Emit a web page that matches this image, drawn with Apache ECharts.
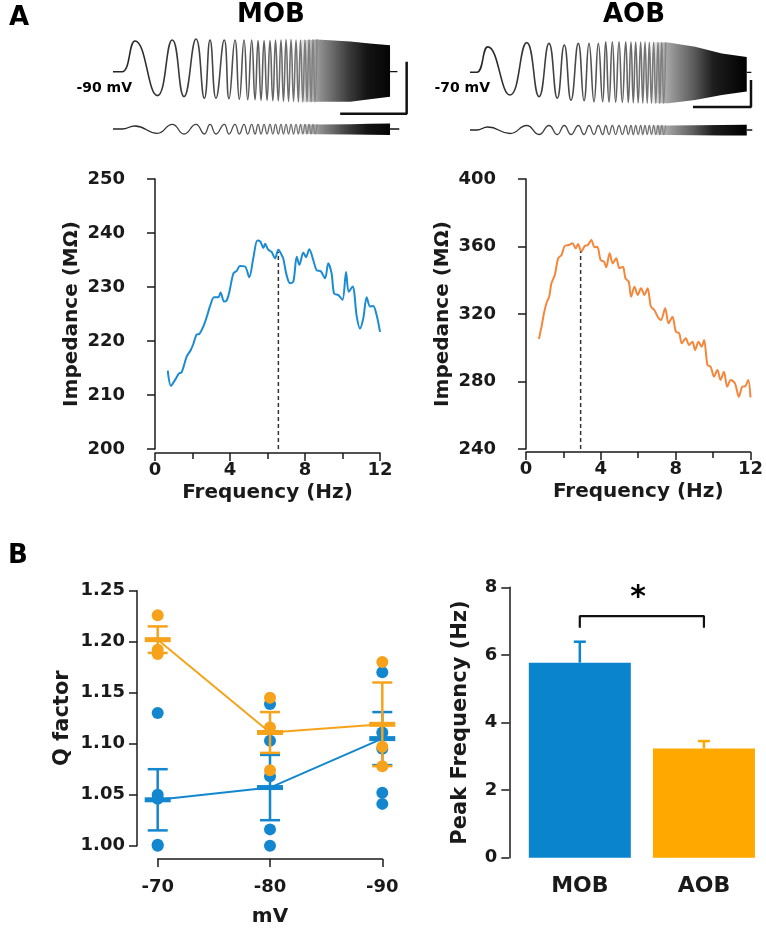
<!DOCTYPE html>
<html><head><meta charset="utf-8">
<script src="https://cdn.jsdelivr.net/npm/echarts@6/dist/echarts.min.js"></script>
<style>html,body{margin:0;padding:0;background:#fff}#c{width:766px;height:928px}</style>
</head><body><div id="c"></div>
<script>
// ---------- Panel A top: chirp responses (time s, mV / pA) ----------
const mobTraceT = [0, 0.97, 2.38, 4.80, 6.42, 7.69, 8.99, 9.89, 10.51, 11.15, 12.05, 12.56, 13.21, 13.68, 14.19, 14.59, 15.02, 15.38, 15.71, 16.03, 16.36, 16.68, 17.00, 17.31, 17.60, 17.90, 18.19, 18.46, 18.74, 19.01, 19.28, 19.55, 19.82, 20.07, 20.31, 20.56, 20.79, 21.01, 21.23, 21.45, 21.66, 21.88, 22.09];
const mobTraceV = [-90, -90, -84.1, -94.6, -83.9, -94.8, -83.7, -95.1, -83.9, -95.1, -83.9, -95.2, -83.9, -95.3, -83.9, -95.4, -83.9, -95.4, -84.0, -95.5, -84.0, -95.5, -84.0, -95.6, -83.9, -95.6, -83.9, -95.7, -83.8, -95.7, -83.8, -95.7, -83.9, -95.8, -83.9, -95.8, -83.9, -95.8, -83.8, -95.8, -83.8, -95.8, -83.8];
const mobStimI = [0, 0, 30, -43, 47, -50, 47, -50, 47, -50, 47, -50, 47, -50, 47, -50, 47, -50, 47, -50, 47, -50, 47, -50, 47, -50, 47, -50, 47, -50, 47, -50, 47, -50, 47, -50, 47, -50, 47, -50, 47, -50, 47];
const mobBandT = [20.0, 21.4, 22.1, 25.7, 27.8, 30.0];
const mobBandHiV = [-83.9, -83.9, -83.8, -84.2, -84.6, -84.9];
const mobBandLoV = [-95.8, -95.8, -95.8, -95.8, -95.3, -94.8];
const mobBandHiI = [47, 45, 45, 48, 52, 55];
const mobBandLoI = [-50, -50, -52, -55, -58, -60];
const mobTailT = [30.0, 30.8];
const mobBaseV = -90;
const mobScaleT = [24.6, 31.8, 31.8];
const mobScaleV = [-98.1, -98.1, -88.1];

const aobTraceT = [0, 0.73, 1.92, 4.34, 6.15, 7.48, 8.56, 9.46, 10.22, 10.95, 11.74, 12.36, 12.90, 13.44, 13.91, 14.38, 14.71, 15.07, 15.43, 15.79, 16.15, 16.51, 16.88, 17.16, 17.45, 17.70, 17.96, 18.23, 18.50, 18.73, 18.97, 19.21, 19.44, 19.67, 19.91, 20.14, 20.38, 20.57, 20.78, 21.00, 21.21];
const aobTraceV = [-70, -70, -60.6, -78.4, -59.0, -79.0, -59.3, -79.6, -59.9, -80.3, -59.3, -80.5, -59.3, -80.9, -59.3, -80.9, -58.7, -81.0, -58.7, -81.1, -58.7, -81.2, -58.7, -81.2, -58.8, -81.3, -58.8, -81.3, -58.8, -81.4, -58.8, -81.4, -58.9, -81.4, -58.9, -81.4, -58.9, -81.5, -59.0, -81.5, -59.0];
const aobStimI = [0, 0, 30, -35, 45, -45, 45, -45, 45, -45, 45, -45, 45, -45, 45, -45, 45, -45, 45, -45, 45, -45, 45, -45, 45, -45, 45, -45, 45, -45, 45, -45, 45, -45, 45, -45, 45, -45, 45, -45, 45];
const aobBandT = [19.5, 20.6, 21.5, 24.4, 27.3, 29.8, 30.0];
const aobBandHiV = [-58.9, -59.0, -59.0, -60.5, -63.0, -64.2, -64.3];
const aobBandLoV = [-81.4, -81.5, -81.5, -80.3, -78.4, -77.2, -77.1];
const aobBandHiI = [45, 45, 45, 47, 50, 52, 52];
const aobBandLoI = [-47, -50, -50, -52, -55, -55, -55];
const aobTailT = [30.0, 30.5];
const aobBaseV = -70;
const aobScaleT = [24.17, 30.46, 30.46];
const aobScaleV = [-82.85, -82.85, -72.85];

// ---------- Panel A bottom: impedance profiles ----------
const mobFreq = [0.68, 0.85, 1.07, 1.28, 1.42, 1.69, 1.9, 2.04, 2.22, 2.36, 2.58, 2.79, 2.93, 3.15, 3.38, 3.5, 3.68, 3.82, 3.96, 4.18, 4.36, 4.53, 4.8, 5.03, 5.24, 5.46, 5.62, 5.78, 5.87, 6.04, 6.22, 6.4, 6.58, 6.76, 6.84, 7.02, 7.2, 7.38, 7.56, 7.7, 7.91, 8.05, 8.23, 8.44, 8.62, 8.84, 9.07, 9.24, 9.42, 9.55, 9.78, 10.0, 10.19, 10.33, 10.54, 10.76, 10.93, 11.11, 11.29, 11.47, 11.64, 11.82, 12.0];
const mobImp = [214.5, 211.7, 212.8, 214.0, 214.2, 217.1, 218.3, 219.4, 221.2, 221.3, 222.7, 224.8, 226.4, 228.1, 228.1, 229.0, 227.3, 227.5, 229.0, 232.5, 233.0, 233.9, 233.8, 231.8, 235.3, 238.6, 238.4, 237.2, 238.0, 236.9, 236.5, 235.3, 236.9, 235.9, 235.3, 232.2, 230.7, 231.0, 235.6, 234.1, 236.4, 235.5, 237.0, 235.0, 233.1, 232.9, 231.6, 234.4, 232.5, 228.8, 228.5, 227.6, 232.8, 229.1, 230.1, 224.5, 222.3, 224.2, 228.1, 226.4, 226.5, 224.8, 221.7];
const mobPeakFreq = 6.58;
const mobPeakImp = 236.5;
const mobImpTicks = [200, 250, 10];

const aobFreq = [0.69, 0.83, 0.96, 1.1, 1.24, 1.36, 1.54, 1.72, 1.9, 2.07, 2.3, 2.48, 2.66, 2.78, 2.96, 3.14, 3.31, 3.49, 3.67, 3.81, 3.99, 4.17, 4.29, 4.47, 4.64, 4.82, 5.0, 5.18, 5.32, 5.49, 5.62, 5.8, 5.97, 6.15, 6.33, 6.5, 6.68, 6.86, 7.04, 7.21, 7.44, 7.62, 7.83, 8.01, 8.19, 8.33, 8.54, 8.72, 8.9, 9.04, 9.22, 9.39, 9.52, 9.7, 9.87, 10.05, 10.23, 10.4, 10.58, 10.76, 10.94, 11.17, 11.38, 11.56, 11.73, 11.88, 12.0];
const aobImp = [305.2, 312.5, 320.4, 326.7, 330.3, 338.2, 343.1, 353.0, 355.0, 360.3, 360.9, 361.9, 358.9, 361.5, 356.9, 360.3, 360.9, 363.9, 359.5, 359.9, 352.0, 351.0, 347.7, 356.0, 350.0, 353.0, 347.1, 348.0, 341.1, 339.2, 330.3, 336.2, 331.3, 335.2, 331.3, 335.2, 324.3, 322.4, 318.4, 316.4, 323.4, 314.5, 318.4, 309.5, 308.5, 302.6, 305.6, 301.6, 303.6, 298.7, 303.6, 300.6, 304.6, 289.8, 288.8, 282.9, 286.8, 280.9, 285.8, 276.9, 280.9, 278.9, 271.0, 276.9, 277.3, 280.9, 270.6];
const aobPeakFreq = 2.92;
const aobPeakImp = 357;
const aobImpTicks = [240, 400, 40];
const freqTicks = [0, 12, 4];

// ---------- Panel B: Q factor ----------
const qCategories = ['-70', '-80', '-90'];
const mobQDots = [[1.130, 1.050, 1.046, 1.001, 1.000], [1.139, 1.103, 1.068, 1.016, 1.000], [1.170, 1.111, 1.095, 1.052, 1.041]];
const aobQDots = [[1.226, 1.192, 1.188], [1.145, 1.116, 1.074], [1.180, 1.097, 1.078]];
const mobQMean = [1.045, 1.057, 1.105];
const mobQSem = [0.030, 0.032, 0.026];
const aobQMean = [1.202, 1.111, 1.119];
const aobQSem = [0.013, 0.020, 0.041];
const qTicks = [1.00, 1.25, 0.05];

// ---------- Panel B: peak frequency ----------
const peakCats = ['MOB', 'AOB'];
const peakMean = [5.77, 3.23];
const peakSem = [0.62, 0.22];
const peakTicks = [0, 8, 2];
const sigBracketLow = 6.8;
const sigBracketHigh = 7.15;

// ---------- styling ----------
const FONT = 'DejaVu Sans';
const INK = '#1a1a1a';
const BLUE_Z = '#1b8bd3', ORANGE_Z = '#f4873c';
const BLUE_Q = '#1287cf', ORANGE_Q = '#f6a31b';
const peakColors = ['#0a84cd', '#ffa800'];

const G = echarts.graphic.LinearGradient;
const zip = (a, b) => a.map((v, i) => [v, b[i]]);

function hidden(gi, min, max) { return { gridIndex: gi, type: 'value', min: min, max: max, show: false }; }
function styledAxis(extra) {
  return Object.assign({
    axisLine: { show: true, lineStyle: { color: INK, width: 1.5 } },
    axisTick: { show: true, length: 8, inside: false, lineStyle: { color: INK, width: 1.5 } },
    axisLabel: { color: INK, fontFamily: FONT, fontWeight: 'bold', fontSize: 18 },
    splitLine: { show: false },
    nameLocation: 'middle',
    nameTextStyle: { color: INK, fontFamily: FONT, fontWeight: 'bold', fontSize: 20 }
  }, extra);
}

function bandRender(tArr, hiArr, loArr, fill) {
  return function (params, api) {
    const pts = [];
    for (let i = 0; i < tArr.length; i++) pts.push(api.coord([tArr[i], hiArr[i]]));
    for (let i = tArr.length - 1; i >= 0; i--) pts.push(api.coord([tArr[i], loArr[i]]));
    return { type: 'polygon', shape: { points: pts }, style: { fill: fill } };
  };
}
const bandGradA = () => new G(0, 0, 1, 0, [
  { offset: 0, color: 'rgba(140,140,140,0)' }, { offset: 0.14, color: 'rgba(130,130,130,0.55)' },
  { offset: 0.25, color: '#8c8c8c' }, { offset: 0.55, color: '#3c3c3c' },
  { offset: 0.75, color: '#141414' }, { offset: 1, color: '#050505' }]);
const bandGradB = () => new G(0, 0, 1, 0, [
  { offset: 0, color: 'rgba(140,140,140,0)' }, { offset: 0.12, color: 'rgba(130,130,130,0.55)' },
  { offset: 0.25, color: '#909090' }, { offset: 0.45, color: '#5c5c5c' },
  { offset: 0.65, color: '#1e1e1e' }, { offset: 1, color: '#000' }]);
const waveGrad = () => new G(0, 0, 1, 0, [
  { offset: 0, color: '#222' }, { offset: 0.55, color: '#4a4a4a' }, { offset: 1, color: '#808080' }]);

function traceSeries(xi, tArr, vArr, bandT, bandHi, bandLo, bandFill, tailT, base, width) {
  return [
    { type: 'line', xAxisIndex: xi, yAxisIndex: xi, data: zip(tArr, vArr), smooth: 0.5, showSymbol: false, clip: false,
      lineStyle: { width: width, color: waveGrad() }, z: 2 },
    { type: 'custom', xAxisIndex: xi, yAxisIndex: xi, data: [[bandT[0], bandHi[0]]], renderItem: bandRender(bandT, bandHi, bandLo, bandFill), z: 3 },
    { type: 'line', xAxisIndex: xi, yAxisIndex: xi, data: tailT.map(t => [t, base]), showSymbol: false, clip: false,
      lineStyle: { width: 1.3, color: '#111' }, z: 3 }
  ];
}

function qErr(color) {
  return function (params, api) {
    const i = api.value(0), m = api.value(1), s = api.value(2);
    const c = api.coord([i, m]), hi = api.coord([i, m + s]), lo = api.coord([i, m - s]);
    const cw = 10, mw = 13;
    const st = { stroke: color, lineWidth: 2.5 };
    return { type: 'group', children: [
      { type: 'line', shape: { x1: c[0], y1: hi[1], x2: c[0], y2: lo[1] }, style: st },
      { type: 'line', shape: { x1: c[0] - cw, y1: hi[1], x2: c[0] + cw, y2: hi[1] }, style: st },
      { type: 'line', shape: { x1: c[0] - cw, y1: lo[1], x2: c[0] + cw, y2: lo[1] }, style: st },
      { type: 'rect', shape: { x: c[0] - mw, y: c[1] - 2.5, width: 2 * mw, height: 5 }, style: { fill: color } }
    ] };
  };
}
function barErr(params, api) {
  const i = api.value(0), m = api.value(1), s = api.value(2);
  const b = api.coord([i, m]), t = api.coord([i, m + s]);
  const st = { stroke: peakColors[i], lineWidth: 2.5 };
  return { type: 'group', children: [
    { type: 'line', shape: { x1: b[0], y1: b[1], x2: t[0], y2: t[1] }, style: st },
    { type: 'line', shape: { x1: t[0] - 6, y1: t[1], x2: t[0] + 6, y2: t[1] }, style: st }
  ] };
}
const flatDots = dots => dots.flatMap((arr, i) => arr.map(v => [i, v]));

const option = {
  animation: false,
  backgroundColor: '#fff',
  grid: [
    { left: 113, top: 30.1, width: 295.5, height: 93.6 },
    { left: 113, top: 115, width: 295.5, height: 28 },
    { left: 470, top: 29.1, width: 295.2, height: 91.8 },
    { left: 470, top: 116, width: 295.2, height: 28 },
    { left: 155, top: 179, width: 225, height: 270 },
    { left: 526, top: 179, width: 226, height: 270 },
    { left: 157.7, top: 590.7, width: 224.6, height: 256 },
    { left: 517.75, top: 587.3, width: 249, height: 270.4 }
  ],
  xAxis: [
    hidden(0, 0, 32), hidden(1, 0, 32), hidden(2, 0, 32), hidden(3, 0, 32),
    styledAxis({ gridIndex: 4, type: 'value', min: freqTicks[0], max: freqTicks[1], interval: freqTicks[2], offset: 4,
      minorTick: { show: true, splitNumber: 2, length: 6, lineStyle: { color: INK, width: 1.5 } },
      name: 'Frequency (Hz)', nameGap: 30 }),
    styledAxis({ gridIndex: 5, type: 'value', min: freqTicks[0], max: freqTicks[1], interval: freqTicks[2], offset: 3,
      minorTick: { show: true, splitNumber: 2, length: 6, lineStyle: { color: INK, width: 1.5 } },
      name: 'Frequency (Hz)', nameGap: 30 }),
    styledAxis({ gridIndex: 6, type: 'category', data: qCategories, boundaryGap: false, offset: 13.3,
      axisLabel: { color: INK, fontFamily: FONT, fontWeight: 'bold', fontSize: 18, margin: 19 },
      name: 'mV', nameGap: 48 }),
    styledAxis({ gridIndex: 7, type: 'category', data: peakCats,
      axisLine: { show: false }, axisTick: { show: false },
      axisLabel: { color: INK, fontFamily: FONT, fontWeight: 'bold', fontSize: 22, margin: 18 } })
  ],
  yAxis: [
    hidden(0, -100, -82), hidden(1, -140, 140), hidden(2, -88, -54), hidden(3, -140, 140),
    styledAxis({ gridIndex: 4, type: 'value', min: mobImpTicks[0], max: mobImpTicks[1], interval: mobImpTicks[2], offset: 16,
      axisLabel: { color: INK, fontFamily: FONT, fontWeight: 'bold', fontSize: 18, margin: 14 },
      name: 'Impedance (MΩ)', nameGap: 57 }),
    styledAxis({ gridIndex: 5, type: 'value', min: aobImpTicks[0], max: aobImpTicks[1], interval: aobImpTicks[2], offset: 16,
      axisLabel: { color: INK, fontFamily: FONT, fontWeight: 'bold', fontSize: 18, margin: 14 },
      name: 'Impedance (MΩ)', nameGap: 57 }),
    styledAxis({ gridIndex: 6, type: 'value', min: qTicks[0], max: qTicks[1], interval: qTicks[2], offset: 20.7,
      axisLabel: { color: INK, fontFamily: FONT, fontWeight: 'bold', fontSize: 18, margin: 12, formatter: v => v.toFixed(2) },
      name: 'Q factor', nameGap: 64, nameTextStyle: { color: INK, fontFamily: FONT, fontWeight: 'bold', fontSize: 21 } }),
    styledAxis({ gridIndex: 7, type: 'value', min: peakTicks[0], max: peakTicks[1], interval: peakTicks[2], offset: 8.45,
      axisLabel: { color: INK, fontFamily: FONT, fontWeight: 'bold', fontSize: 18, margin: 12 },
      name: 'Peak Frequency (Hz)', nameGap: 38, nameTextStyle: { color: INK, fontFamily: FONT, fontWeight: 'bold', fontSize: 21 } })
  ],
  series: [].concat(
    traceSeries(0, mobTraceT, mobTraceV, mobBandT, mobBandHiV, mobBandLoV, bandGradA(), mobTailT, mobBaseV, 1.6),
    [{ type: 'line', xAxisIndex: 0, yAxisIndex: 0, data: zip(mobScaleT, mobScaleV), showSymbol: false, clip: false,
       lineStyle: { width: 2.5, color: '#111' } }],
    traceSeries(1, mobTraceT, mobStimI, mobBandT, mobBandHiI, mobBandLoI, bandGradA(), [30.0, 31.0], 0, 1.3),
    traceSeries(2, aobTraceT, aobTraceV, aobBandT, aobBandHiV, aobBandLoV, bandGradB(), aobTailT, aobBaseV, 1.6),
    [{ type: 'line', xAxisIndex: 2, yAxisIndex: 2, data: zip(aobScaleT, aobScaleV), showSymbol: false, clip: false,
       lineStyle: { width: 2.5, color: '#111' } }],
    traceSeries(3, aobTraceT, aobStimI, aobBandT, aobBandHiI, aobBandLoI, bandGradB(), [30.0, 30.6], 0, 1.3),
    [
      { type: 'line', xAxisIndex: 4, yAxisIndex: 4, data: zip(mobFreq, mobImp), smooth: 0.3, showSymbol: false,
        lineStyle: { width: 2, color: BLUE_Z } },
      { type: 'line', xAxisIndex: 4, yAxisIndex: 4, data: [[mobPeakFreq, mobImpTicks[0]], [mobPeakFreq, mobPeakImp]], showSymbol: false,
        lineStyle: { width: 1.5, color: '#333', type: [4, 3] } },
      { type: 'line', xAxisIndex: 5, yAxisIndex: 5, data: zip(aobFreq, aobImp), smooth: 0.3, showSymbol: false,
        lineStyle: { width: 2, color: ORANGE_Z } },
      { type: 'line', xAxisIndex: 5, yAxisIndex: 5, data: [[aobPeakFreq, aobImpTicks[0]], [aobPeakFreq, aobPeakImp]], showSymbol: false,
        lineStyle: { width: 1.5, color: '#333', type: [4, 3] } },

      { type: 'scatter', xAxisIndex: 6, yAxisIndex: 6, data: flatDots(mobQDots), symbolSize: 12, clip: false,
        itemStyle: { color: BLUE_Q, opacity: 1 }, z: 2 },
      { type: 'line', xAxisIndex: 6, yAxisIndex: 6, data: mobQMean, showSymbol: false, lineStyle: { width: 2, color: BLUE_Q }, z: 3 },
      { type: 'custom', xAxisIndex: 6, yAxisIndex: 6, data: mobQMean.map((m, i) => [i, m, mobQSem[i]]), encode: { x: 0, y: 1 },
        renderItem: qErr(BLUE_Q), z: 4 },
      { type: 'scatter', xAxisIndex: 6, yAxisIndex: 6, data: flatDots(aobQDots), symbolSize: 12, clip: false,
        itemStyle: { color: ORANGE_Q, opacity: 1 }, z: 5 },
      { type: 'line', xAxisIndex: 6, yAxisIndex: 6, data: aobQMean, showSymbol: false, lineStyle: { width: 2, color: ORANGE_Q }, z: 6 },
      { type: 'custom', xAxisIndex: 6, yAxisIndex: 6, data: aobQMean.map((m, i) => [i, m, aobQSem[i]]), encode: { x: 0, y: 1 },
        renderItem: qErr(ORANGE_Q), z: 7 },

      { type: 'bar', xAxisIndex: 7, yAxisIndex: 7, barWidth: 102,
        data: peakMean.map((v, i) => ({ value: v, itemStyle: { color: peakColors[i] } })), z: 3 },
      { type: 'custom', xAxisIndex: 7, yAxisIndex: 7, data: peakMean.map((m, i) => [i, m, peakSem[i]]), encode: { x: 0, y: 1 },
        renderItem: barErr, z: 2 },
      { type: 'line', xAxisIndex: 7, yAxisIndex: 7, showSymbol: false,
        data: [[0, sigBracketLow], [0, sigBracketHigh], [1, sigBracketHigh], [1, sigBracketLow]],
        lineStyle: { width: 2.2, color: '#111' } }
    ]
  ),
  graphic: [
    { type: 'text', x: 19, y: 18, style: { text: 'A', font: 'bold 26px "DejaVu Sans"', fill: '#000', align: 'center', verticalAlign: 'middle' } },
    { type: 'text', x: 18, y: 556, style: { text: 'B', font: 'bold 26px "DejaVu Sans"', fill: '#000', align: 'center', verticalAlign: 'middle' } },
    { type: 'text', x: 271, y: 15, style: { text: 'MOB', font: 'bold 26px "DejaVu Sans"', fill: '#000', align: 'center', verticalAlign: 'middle' } },
    { type: 'text', x: 634, y: 15, style: { text: 'AOB', font: 'bold 26px "DejaVu Sans"', fill: '#000', align: 'center', verticalAlign: 'middle' } },
    { type: 'text', x: 132, y: 88, style: { text: '-90 mV', font: 'bold 14px "DejaVu Sans"', fill: '#000', align: 'right', verticalAlign: 'middle' } },
    { type: 'text', x: 490, y: 88, style: { text: '-70 mV', font: 'bold 14px "DejaVu Sans"', fill: '#000', align: 'right', verticalAlign: 'middle' } },
    { type: 'text', x: 638, y: 598, style: { text: '*', font: 'bold 30px "DejaVu Sans"', fill: '#000', align: 'center', verticalAlign: 'middle' } }
  ]
};

const chart = echarts.init(document.getElementById('c'), null, { renderer: 'canvas' });
chart.setOption(option);
</script></body></html>
